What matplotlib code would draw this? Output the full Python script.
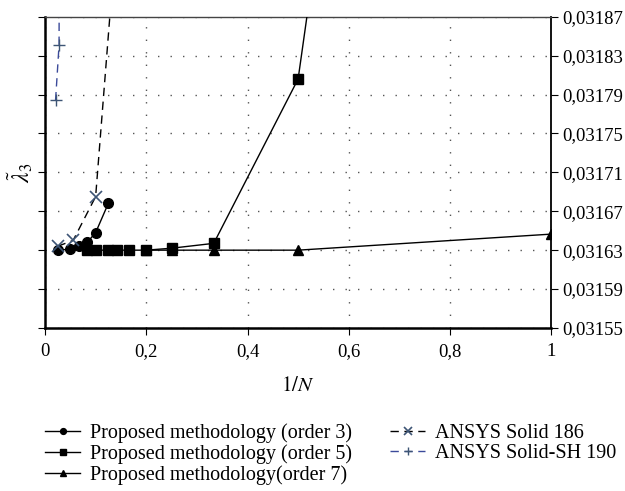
import matplotlib
matplotlib.use("Agg")
import matplotlib.pyplot as plt
import numpy as np

plt.rcParams['font.family'] = ['Liberation Serif', 'DejaVu Serif']
plt.rcParams['mathtext.fontset'] = 'stix'

# data (1/N, lambda3)
x_o3 = [1/40, 1/20, 1/15, 1/12, 1/10, 1/8]
y_o3 = [0.03163, 0.031631, 0.031634, 0.031638, 0.031648, 0.031678]

x_o5 = [1/12, 1/10, 1/8, 1/7, 1/6, 1/5, 1/4, 1/3, 1/2, 1]
y_o5 = [0.03163, 0.03163, 0.03163, 0.03163, 0.03163, 0.03163, 0.031632, 0.031637, 0.031806, 0.03365]

x_o7 = [1/5, 1/4, 1/3, 1/2, 1]
y_o7 = [0.03163, 0.03163, 0.03163, 0.03163, 0.0316465]

x_186 = [1/40, 1/18, 1/10, 1/5]
y_186 = [0.031634, 0.031640, 0.031685, 0.032345]

x_190 = [1/48, 1/36, 1/30]
y_190 = [0.031784, 0.031841, 0.0330]

yticks = np.arange(0.03155, 0.031871, 0.00004)
xticks = [0, 0.2, 0.4, 0.6, 0.8, 1]

fig = plt.figure(figsize=(6.25, 4.91), dpi=100)
ax = fig.add_axes([0.072, 0.332, 0.81, 0.634])

ax.plot(x_o7, y_o7, '-', color='black', lw=1, marker='^', ms=7, label='Proposed methodology(order 7)', zorder=3)
ax.plot(x_o5, y_o5, '-', color='black', lw=1, marker='s', ms=7, label='Proposed methodology (order 5)', zorder=4)
ax.plot(x_o3, y_o3, '-', color='black', lw=1, marker='o', ms=7, label='Proposed methodology (order 3)', zorder=5)
ax.plot(x_186, y_186, '--', color='black', lw=1, dashes=(6, 4), marker='x', ms=9, mew=1.2,
        mec='#3d5575', label='ANSYS Solid 186', zorder=6)
ax.plot(x_190, y_190, '--', color='#3b4a9a', lw=1, dashes=(6, 4), marker='+', ms=9, mew=1.0,
        mec='#3d5575', label='ANSYS Solid-SH 190', zorder=6)

ax.set_xlim(0, 1)
ax.set_ylim(0.03155, 0.03187)
ax.set_xticks(xticks)
ax.set_xticklabels(['0', '0,2', '0,4', '0,6', '0,8', '1'], fontsize=13.5)
ax.set_yticks(yticks)
ax.yaxis.set_ticks_position('both')
ax.tick_params(axis='y', which='both', direction='out', length=5, labelleft=False,
               labelright=True, labelsize=13.5, color='black', pad=3)
ax.tick_params(axis='x', direction='out', length=5, labelsize=13.5, pad=6)
ax.set_yticklabels([('%.5f' % v).replace('.', ',') for v in yticks])
ax.grid(True, linestyle=(0, (1, 8)), color='#555555', lw=1.0)

for s in ['left', 'bottom']:
    ax.spines[s].set_linewidth(1.8)
ax.spines['right'].set_linewidth(1.3)
ax.spines['top'].set_linewidth(1.0)
ax.spines['top'].set_color('#444444')

ax.set_xlabel('$1/N$', fontsize=15, labelpad=12)
ax.set_ylabel(r'$\tilde{\lambda}_3$', fontsize=17, labelpad=2)

h, l = ax.get_legend_handles_labels()
order = [2, 1, 0, 3, 4]
fig.legend([h[i] for i in order], [l[i] for i in order], ncol=2, frameon=False,
           loc='lower left', bbox_to_anchor=(0.043, -0.024), fontsize=14.5,
           markerscale=0.6, handlelength=1.74, handletextpad=0.5,
           columnspacing=1.9, labelspacing=0.05)

fig.savefig('out.png', dpi=100)
